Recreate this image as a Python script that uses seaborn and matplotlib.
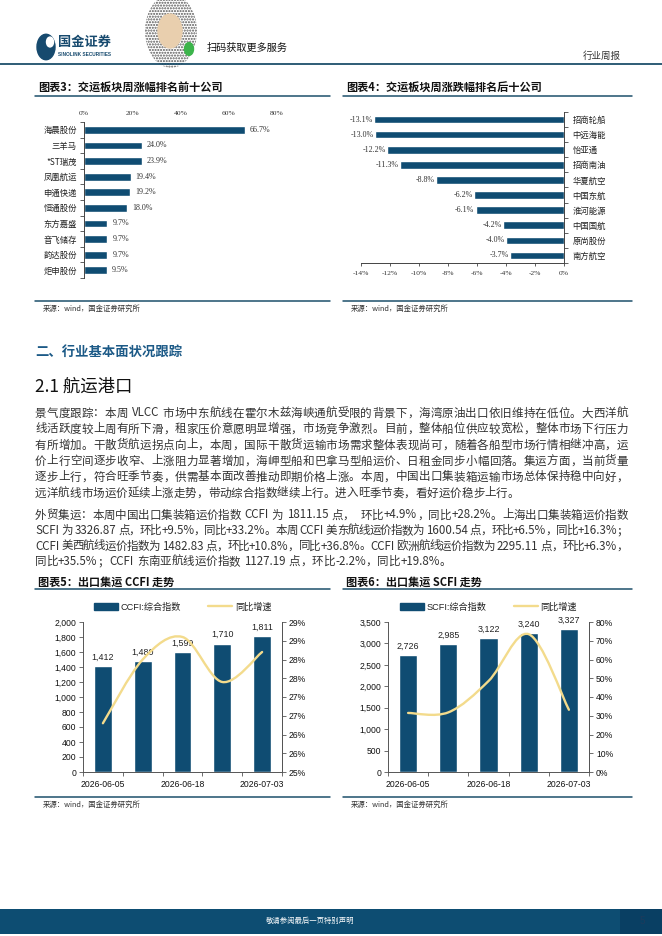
import re

import matplotlib
import matplotlib.pyplot as plt
from matplotlib.lines import Line2D
from matplotlib.patches import Circle, Patch, PathPatch, Rectangle
from matplotlib.path import Path
from matplotlib.ticker import FixedLocator, FuncFormatter
import numpy as np
import seaborn as sns

W, H, DPI = 662, 936, 100

NAVY = "#0f4c72"
YELLOW = "#f3db8c"
TEAL = "#1d4f6b"
CJK = ["Noto Sans CJK SC", "DejaVu Sans"]
SANS = ["Liberation Sans", "Noto Sans CJK SC"]
SERIF = ["Liberation Serif", "Noto Sans CJK SC"]

# 图表3 data
top_names = ["海晨股份", "三羊马", "*ST瑞茂", "凤凰航运", "申通快递",
             "恒通股份", "东方嘉盛", "音飞储存", "韵达股份", "炬申股份"]
top_pct = [66.7, 24.0, 23.9, 19.4, 19.2, 18.0, 9.7, 9.7, 9.7, 9.5]

# 图表4 data
bottom_names = ["招商轮船", "中远海能", "怡亚通", "招商南油", "华夏航空",
                "中国东航", "淮河能源", "中国国航", "原尚股份", "南方航空"]
bottom_pct = [-13.1, -13.0, -12.2, -11.3, -8.8, -6.2, -6.1, -4.2, -4.0, -3.7]

# 图表5 / 图表6 data
dates = ["2026-06-05", "2026-06-12", "2026-06-18", "2026-06-26", "2026-07-03"]
ccfi = [1412, 1480, 1599, 1710, 1811]
ccfi_yoy = [26.3, 28.0, 28.6, 27.4, 28.2]
ccfi_yoy_ticks = ["25%", "26%", "26%", "27%", "27%", "28%", "28%", "29%", "29%"]
scfi = [2726, 2985, 3122, 3240, 3327]
scfi_yoy = [31.5, 31.8, 48.5, 73.5, 33.2]

para1 = [
    "景气度跟踪：本周 VLCC 市场中东航线在霍尔木兹海峡通航受限的背景下，海湾原油出口依旧维持在低位。大西洋航",
    "线活跃度较上周有所下滑，租家压价意愿明显增强，市场竞争激烈。目前，整体船位供应较宽松，整体市场下行压力",
    "有所增加。干散货航运拐点向上，本周，国际干散货运输市场需求整体表现尚可，随着各船型市场行情相继冲高，运",
    "价上行空间逐步收窄、上涨阻力显著增加，海岬型船和巴拿马型船运价、日租金同步小幅回落。集运方面，当前货量",
    "逐步上行，符合旺季节奏，供需基本面改善推动即期价格上涨。本周，中国出口集装箱运输市场总体保持稳中向好，",
    "远洋航线市场运价延续上涨走势，带动综合指数继续上行。进入旺季节奏，看好运价稳步上行。",
]
para2 = [
    "外贸集运：本周中国出口集装箱运价指数 CCFI 为 1811.15 点，  环比+4.9%，同比+28.2%。上海出口集装箱运价指数",
    "SCFI 为 3326.87 点，环比+9.5%，同比+33.2%。本周 CCFI 美东航线运价指数为 1600.54 点，环比+6.5%，同比+16.3%；",
    "CCFI 美西航线运价指数为 1482.83 点，环比+10.8%，同比+36.8%。CCFI 欧洲航线运价指数为 2295.11 点，环比+6.3%，",
    "同比+35.5%；CCFI 东南亚航线运价指数 1127.19 点，环比-2.2%，同比+19.8%。",
]

sns.set_theme(style="white")
plt.rcParams["font.family"] = CJK
plt.rcParams["axes.unicode_minus"] = False

fig = plt.figure(figsize=(W / DPI, H / DPI), dpi=DPI)
renderer = fig.canvas.get_renderer()


def fx(x):
    return x / W


def fy(y):
    return 1 - y / H


def rect(x, y, w, h):
    return [x / W, 1 - (y + h) / H, w / W, h / H]


def hline(x0, x1, y, color=TEAL, lw=1.0):
    fig.add_artist(Line2D([fx(x0), fx(x1)], [fy(y), fy(y)], color=color, lw=lw))


def text_line(s, x0, y, size, width=None, color="#333333"):
    tokens = re.findall(r"[!-~]+| |.", s)
    em = size * DPI / 72
    arts, widths = [], []
    for tok in tokens:
        if tok == " ":
            arts.append(None)
            widths.append(em * 0.3)
            continue
        t = fig.text(fx(x0), fy(y), tok, fontsize=size, family=CJK,
                     fontweight="light", va="center", ha="left", color=color)
        if re.fullmatch(r"[!-~]+", tok):
            w = t.get_window_extent(renderer).width
        else:
            w = em
        arts.append(t)
        widths.append(w)
    gap = 0
    if width and len(tokens) > 1:
        gap = (width - sum(widths)) / (len(tokens) - 1)
    x = x0
    for t, w in zip(arts, widths):
        if t is not None:
            t.set_x(fx(x))
        x += w + gap


def smooth_path(xs, ys):
    pts = list(zip(xs, ys))
    n = len(pts)
    verts, codes = [pts[0]], [Path.MOVETO]
    for i in range(n - 1):
        p0 = pts[i - 1] if i > 0 else pts[i]
        p1, p2 = pts[i], pts[i + 1]
        p3 = pts[i + 2] if i + 2 < n else pts[i + 1]
        c1 = (p1[0] + (p2[0] - p0[0]) / 6, p1[1] + (p2[1] - p0[1]) / 6)
        c2 = (p2[0] - (p3[0] - p1[0]) / 6, p2[1] - (p3[1] - p1[1]) / 6)
        verts += [c1, c2, p2]
        codes += [Path.CURVE4] * 3
    return Path(verts, codes)


def chart_frame(x0, x1, title, title_y, line_y, src_line_y):
    fig.text(fx(x0 + 3), fy(title_y), title, fontsize=8, fontweight="bold",
             style="italic", family=CJK, va="center", color="#111111")
    hline(x0, x1, line_y, lw=1.1)
    hline(x0, x1, src_line_y, lw=1.1)
    fig.text(fx(x0 + 8), fy(src_line_y + 8), "来源：wind，国金证券研究所",
             fontsize=5.3, family=CJK, va="center", color="#333333")


# ---------- header ----------
fig.add_artist(Circle((fx(46), fy(47)), 9 / W, transform=fig.transFigure,
                      color="#174a6e"))
fig.add_artist(Circle((fx(50), fy(42)), 3.5 / W, transform=fig.transFigure,
                      color="white"))
fig.text(fx(58), fy(42), "国金证券", fontsize=9.5, fontweight="bold",
         color="#174a6e", va="center")
fig.text(fx(58), fy(55), "SINOLINK SECURITIES", fontsize=3.4, fontweight="bold",
         family=SANS, color="#174a6e", va="center")
fig.add_artist(Circle((fx(171), fy(31)), 26 / W, transform=fig.transFigure,
                      facecolor="white", edgecolor="#555555", hatch="......",
                      lw=0))
fig.add_artist(Circle((fx(170), fy(31)), 12 / W, transform=fig.transFigure,
                      color="#e9cfae"))
fig.add_artist(Circle((fx(189), fy(49)), 4.5 / W, transform=fig.transFigure,
                      color="#3cb44b"))
fig.text(fx(207), fy(48), "扫码获取更多服务", fontsize=7.3, color="#111111",
         va="center")
fig.text(fx(583), fy(56), "行业周报", fontsize=6.8, color="#333333", va="center")
hline(0, 662, 64, color=TEAL, lw=1.3)

# ---------- 图表3 ----------
chart_frame(35, 330, "图表3：交运板块周涨幅排名前十公司", 88, 96, 301)
ax3 = fig.add_axes(rect(84, 122, 193, 156))
sns.barplot(x=top_pct, y=top_names, orient="h", color=NAVY, saturation=1,
            width=0.5, ax=ax3)
ax3.set_xlim(0, 80)
ax3.set_ylim(9.5, -0.5)
ax3.xaxis.tick_top()
ax3.set_xticks(np.arange(0, 81, 20))
ax3.xaxis.set_major_formatter(FuncFormatter(lambda v, _: f"{v:.0f}%"))
ax3.tick_params(axis="x", length=0, pad=4, labelsize=5.4, labelcolor="#333333")
for lab in ax3.get_xticklabels():
    lab.set_family(SERIF)
ax3.tick_params(axis="y", which="major", length=0, pad=5, labelsize=6,
                labelcolor="#222222")
ax3.yaxis.set_minor_locator(FixedLocator(np.arange(-0.5, 10, 1)))
ax3.tick_params(axis="y", which="minor", length=3, width=0.6, color="#444444",
                left=True)
ax3.spines[["right", "top", "bottom"]].set_visible(False)
ax3.spines["left"].set_color("#444444")
ax3.spines["left"].set_linewidth(0.7)
ax3.set_xlabel("")
ax3.set_ylabel("")
for i, v in enumerate(top_pct):
    ax3.annotate(f"{v:.1f}%", (v, i), xytext=(3.5, 0), textcoords="offset points",
                 va="center", ha="left", fontsize=5.8, family=SERIF,
                 color="#333333")

# ---------- 图表4 ----------
chart_frame(343, 632, "图表4：交运板块周涨跌幅排名后十公司", 88, 96, 301)
ax4 = fig.add_axes(rect(361, 112, 203, 151))
sns.barplot(x=bottom_pct, y=bottom_names, orient="h", color=NAVY,
            saturation=1, width=0.5, ax=ax4)
ax4.set_xlim(-14, 0)
ax4.set_ylim(9.5, -0.5)
ax4.set_xticks(np.arange(-14, 1, 2))
ax4.xaxis.set_major_formatter(FuncFormatter(lambda v, _: f"{v:.0f}%"))
ax4.tick_params(axis="x", length=2.5, width=0.6, color="#444444", bottom=True,
                pad=3, labelsize=5.4, labelcolor="#333333")
for lab in ax4.get_xticklabels():
    lab.set_family(SERIF)
ax4.yaxis.tick_right()
ax4.tick_params(axis="y", which="major", length=0, pad=6, labelsize=6,
                labelcolor="#222222")
ax4.yaxis.set_minor_locator(FixedLocator(np.arange(-0.5, 10, 1)))
ax4.tick_params(axis="y", which="minor", length=3, width=0.6, color="#444444",
                right=True, left=False)
ax4.spines[["left", "top"]].set_visible(False)
for s in ("right", "bottom"):
    ax4.spines[s].set_color("#444444")
    ax4.spines[s].set_linewidth(0.7)
ax4.set_xlabel("")
ax4.set_ylabel("")
for i, v in enumerate(bottom_pct):
    ax4.annotate(f"{v:.1f}%", (v, i), xytext=(-1, 0), textcoords="offset points",
                 va="center", ha="right", fontsize=5.8, family=SERIF,
                 color="#333333")

# ---------- section text ----------
fig.text(fx(35), fy(352), "二、行业基本面状况跟踪", fontsize=9.6,
         fontweight="bold", color="#1c5a87", va="center")
fig.text(fx(35), fy(387), "2.1 航运港口", fontsize=12.5, color="#111111",
         va="center")

y = 413
for k, line in enumerate(para1):
    text_line(line, 35, y, 8.3, width=593 if k < len(para1) - 1 else None)
    y += 16
y = 515
for k, line in enumerate(para2):
    text_line(line, 35, y, 8.3, width=593 if k < len(para2) - 1 else None)
    y += 15.5


# ---------- 图表5 / 图表6 ----------
def combo_chart(x_left, width, values, yoy, ymax, ystep, yoy_lim, yoy_ticks,
                yoy_labels, legend_name):
    ax = fig.add_axes(rect(x_left, 622, width, 150))
    sns.barplot(x=dates, y=values, color=NAVY, saturation=1, width=0.45, ax=ax)
    ax.set_xlim(-0.5, 4.5)
    ax.set_ylim(0, ymax)
    ax.set_yticks(np.arange(0, ymax + 1, ystep))
    ax.yaxis.set_major_formatter(FuncFormatter(lambda v, _: f"{v:,.0f}"))
    ax.set_xticks(range(len(dates)))
    ax.set_xticklabels([d if i % 2 == 0 else "" for i, d in enumerate(dates)])
    ax.xaxis.set_minor_locator(FixedLocator(np.arange(-0.5, 5, 1)))
    ax.tick_params(axis="x", which="major", length=0, pad=6, labelsize=6.2)
    ax.tick_params(axis="x", which="minor", length=3, width=0.6,
                   color="#555555", bottom=True)
    ax.tick_params(axis="y", length=3, width=0.6, color="#555555", left=True,
                   pad=2, labelsize=6.2)
    for lab in ax.get_xticklabels() + ax.get_yticklabels():
        lab.set_family(SANS)
        lab.set_color("#111111")
    ax.spines["top"].set_visible(False)
    for s in ("left", "right", "bottom"):
        ax.spines[s].set_color("#555555")
        ax.spines[s].set_linewidth(0.7)
    ax.set_xlabel("")
    ax.set_ylabel("")
    for i, v in enumerate(values):
        ax.annotate(f"{v:,.0f}", (i, v), xytext=(0, 3.2),
                    textcoords="offset points", ha="center", va="bottom",
                    fontsize=6.4, family=SANS, color="#222222")

    ax2 = ax.twinx()
    ax2.set_ylim(*yoy_lim)
    ax2.add_patch(PathPatch(smooth_path(range(len(yoy)), yoy), fill=False,
                            edgecolor=YELLOW, lw=1.7, capstyle="round"))
    ax2.set_yticks(yoy_ticks)
    ax2.set_yticklabels(yoy_labels)
    ax2.tick_params(axis="y", length=3, width=0.6, color="#555555", right=True,
                    pad=2, labelsize=6.2)
    for lab in ax2.get_yticklabels():
        lab.set_family(SANS)
        lab.set_color("#111111")
    ax2.grid(False)
    for s in ("left", "top", "bottom"):
        ax2.spines[s].set_visible(False)
    ax2.spines["right"].set_color("#555555")
    ax2.spines["right"].set_linewidth(0.7)

    handles = [Patch(color=NAVY, label=legend_name),
               Line2D([], [], color=YELLOW, lw=1.7, label="同比增速")]
    leg = ax.legend(handles=handles, loc="center", ncol=2, frameon=False,
                    bbox_to_anchor=(0.5, 1 + 15 / 150), fontsize=6.6,
                    handlelength=2.6, handleheight=0.9, columnspacing=3.0,
                    handletextpad=0.3)
    for t in leg.get_texts():
        t.set_family(SANS)
        t.set_color("#222222")


chart_frame(35, 330, "图表5：出口集运 CCFI 走势", 582, 589, 797)
combo_chart(83, 199, ccfi, ccfi_yoy, 2000, 200, (25, 29), np.linspace(25, 29, 9),
            ccfi_yoy_ticks, "CCFI:综合指数")

chart_frame(343, 632, "图表6：出口集运 SCFI 走势", 582, 589, 797)
combo_chart(388, 201, scfi, scfi_yoy, 3500, 500, (0, 80), np.arange(0, 81, 10),
            [f"{v}%" for v in range(0, 81, 10)], "SCFI:综合指数")

# ---------- footer ----------
fig.add_artist(Rectangle((0, fy(934)), fx(620), (934 - 909) / H,
                         transform=fig.transFigure, color="#0d4d72", lw=0))
fig.add_artist(Rectangle((fx(620), fy(934)), fx(42), (934 - 909) / H,
                         transform=fig.transFigure, color="#093f63", lw=0))
fig.text(fx(310), fy(921), "敬请参阅最后一页特别声明", fontsize=5.3,
         color="white", ha="center", va="center")
fig.text(fx(642), fy(921), "5", fontsize=7, color="#1d3b5c", ha="center",
         va="center", family=SANS)

fig.savefig("out.png", dpi=DPI)
